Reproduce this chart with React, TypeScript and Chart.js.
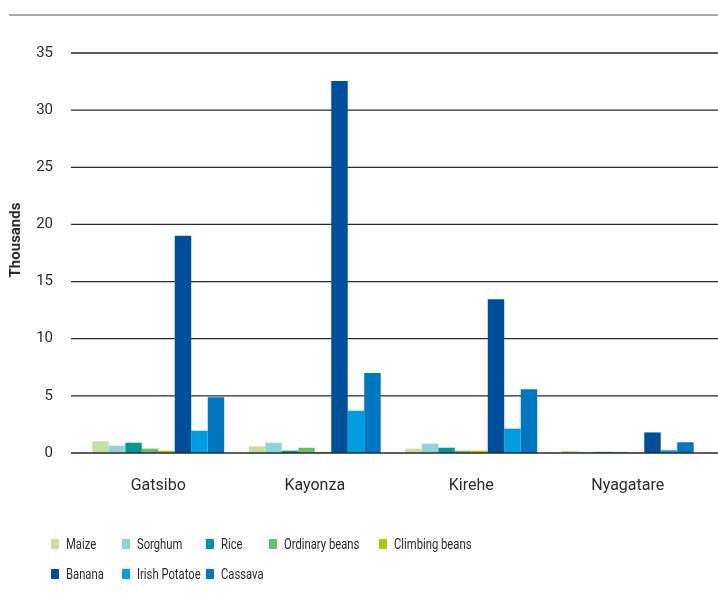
import React, { useEffect, useRef } from 'react';
import { Chart, registerables } from 'chart.js';

Chart.register(...registerables);

const categories = ['Gatsibo', 'Kayonza', 'Kirehe', 'Nyagatare'];
const maize = [1.02, 0.58, 0.38, 0.2];
const sorghum = [0.64, 0.9, 0.82, 0.1];
const rice = [0.9, 0.2, 0.46, 0.1];
const ordinaryBeans = [0.38, 0.46, 0.2, 0.1];
const climbingBeans = [0.2, 0.1, 0.2, 0.04];
const banana = [19.0, 32.55, 13.45, 1.8];
const irishPotatoe = [1.95, 3.7, 2.13, 0.24];
const cassava = [4.87, 7.0, 5.58, 0.94];

const seriesLabels = ['Maize', 'Sorghum', 'Rice', 'Ordinary beans', 'Climbing beans', 'Banana', 'Irish Potatoe', 'Cassava'];
const seriesValues = [maize, sorghum, rice, ordinaryBeans, climbingBeans, banana, irishPotatoe, cassava];
const seriesColors = ['#c6e0a4', '#92d1d4', '#00988f', '#6bbb73', '#b1c800', '#004f9c', '#009ee0', '#0077c0'];

const yMin = 0;
const yMax = 35;
const yStep = 5;
const yTitle = 'Thousands';

const FONT = "'Roboto', sans-serif";
const TEXT = '#2b2b2b';

const decorPlugin = {
  id: 'decor',
  beforeDatasetsDraw(chart: any) {
    const { ctx, chartArea } = chart;
    const y = chart.scales.y;
    ctx.save();
    ctx.strokeStyle = '#8c8c8c';
    ctx.lineWidth = 1.5;
    ctx.beginPath();
    ctx.moveTo(9, 15);
    ctx.lineTo(chart.width, 15);
    ctx.stroke();
    ctx.strokeStyle = '#2a2a2a';
    ctx.lineWidth = 1.3;
    y.ticks.forEach((t: any) => {
      if (t.value === 0) return;
      const py = y.getPixelForValue(t.value);
      ctx.beginPath();
      ctx.moveTo(chartArea.left - 9, py);
      ctx.lineTo(chart.width, py);
      ctx.stroke();
    });
    ctx.restore();
  },
  afterDatasetsDraw(chart: any) {
    const { ctx, chartArea } = chart;
    const py = chart.scales.y.getPixelForValue(0);
    ctx.save();
    ctx.strokeStyle = '#2a2a2a';
    ctx.lineWidth = 1.3;
    ctx.beginPath();
    ctx.moveTo(chartArea.left - 9, py);
    ctx.lineTo(chart.width, py);
    ctx.stroke();
    ctx.restore();
  },
  afterDraw(chart: any) {
    const { ctx, chartArea } = chart;
    ctx.save();
    // y axis title
    ctx.fillStyle = TEXT;
    ctx.font = "bold 15px 'Roboto', sans-serif";
    ctx.textAlign = 'center';
    ctx.textBaseline = 'middle';
    ctx.translate(16, (chartArea.top + chartArea.bottom) / 2 - 13);
    ctx.rotate(-Math.PI / 2);
    ctx.fillText(yTitle, 0, 0);
    ctx.restore();

    // legend in Excel-like columns (narrow lettering as in the original)
    const cols = [51, 122, 206, 269, 379];
    const rows = [544, 574];
    const sx = 0.75;
    ctx.save();
    ctx.font = `15px ${FONT}`;
    ctx.textAlign = 'left';
    ctx.textBaseline = 'middle';
    chart.data.datasets.forEach((ds: any, i: number) => {
      const r = Math.floor(i / 5);
      const c = i % 5;
      const x = cols[c];
      const yy = rows[r];
      ctx.fillStyle = ds.backgroundColor;
      ctx.fillRect(x, yy - 5, 8, 10);
      ctx.fillStyle = TEXT;
      ctx.save();
      ctx.translate(x + 15, yy + 1);
      ctx.scale(sx, 1);
      ctx.fillText(ds.label, 0, 0);
      ctx.restore();
    });
    ctx.restore();
  },
};

export default function App() {
  const ref = useRef<HTMLCanvasElement | null>(null);
  useEffect(() => {
    if (!ref.current) return;
    const chart = new Chart(ref.current, {
      type: 'bar',
      data: {
        labels: categories,
        datasets: seriesLabels.map((label, i) => ({
          label,
          data: seriesValues[i],
          backgroundColor: seriesColors[i],
          borderWidth: 0,
          categoryPercentage: 0.843,
          barPercentage: 1.0,
        })),
      },
      options: {
        responsive: false,
        animation: false,
        layout: { padding: { left: 8, right: 12, top: 53, bottom: 0 } },
        plugins: { legend: { display: false }, tooltip: { enabled: false }, title: { display: false } },
        scales: {
          x: {
            grid: { display: false, drawTicks: false },
            border: { display: false },
            ticks: { color: TEXT, font: { family: FONT, size: 16 }, padding: 23 },
            afterFit: (s: any) => { s.height = 153; },
          },
          y: {
            min: yMin,
            max: yMax,
            grid: { display: false, drawTicks: false },
            border: { display: false },
            ticks: { stepSize: yStep, color: TEXT, font: { family: FONT, size: 15 }, padding: 27 },
            afterFit: (s: any) => { s.width = 72; },
          },
        },
      },
      plugins: [decorPlugin],
    });
    return () => chart.destroy();
  }, []);
  return (
    <div style={{ position: 'fixed', left: 0, top: 0, width: 718, height: 606, background: '#fff' }}>
      <canvas ref={ref} width={718} height={606} style={{ width: 718, height: 606, display: 'block' }} />
    </div>
  );
}
